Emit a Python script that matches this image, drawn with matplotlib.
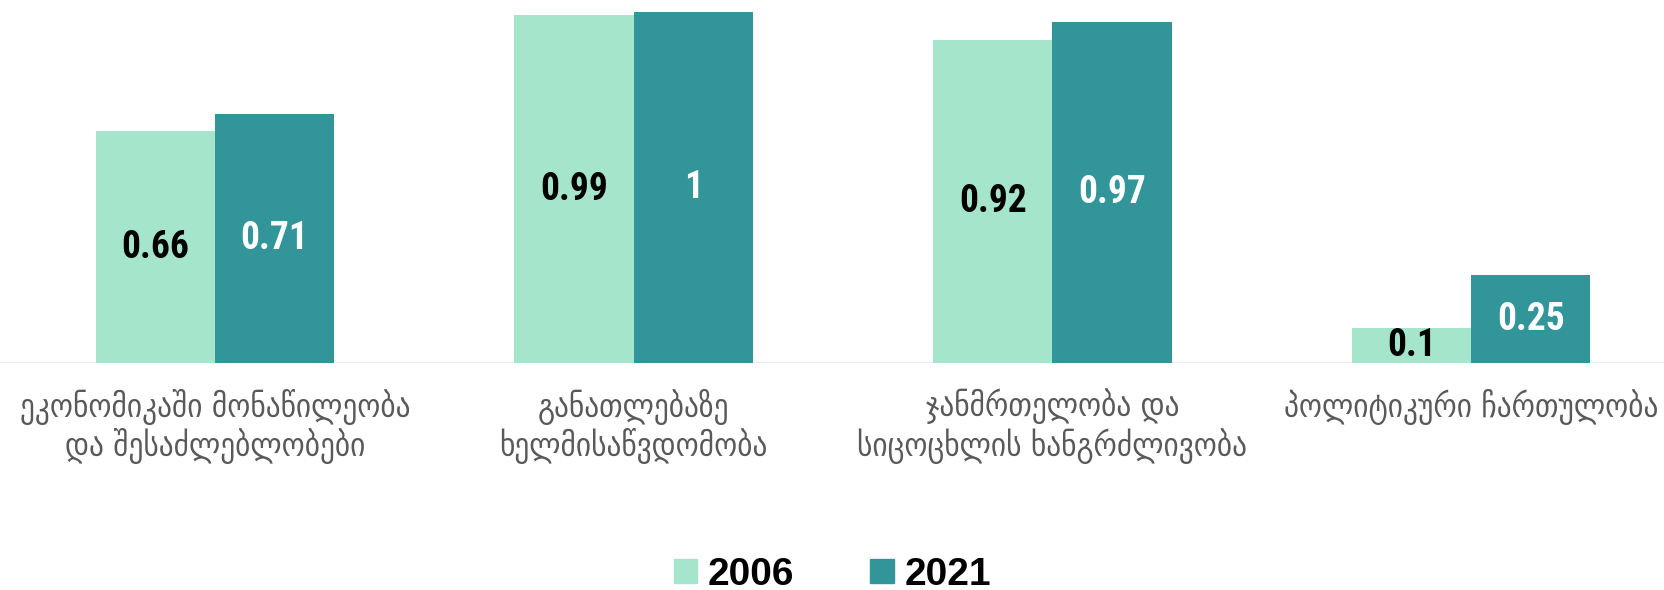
import matplotlib.pyplot as plt
import numpy as np
from matplotlib.transforms import blended_transform_factory
from matplotlib.patches import Patch

categories = [
    "ეკონომიკაში მონაწილეობა\nდა შესაძლებლობები",
    "განათლებაზე\nხელმისაწვდომობა",
    "ჯანმრთელობა და\nსიცოცხლის ხანგრძლივობა",
    "პოლიტიკური ჩართულობა",
]
years = ["2006", "2021"]
values_2006 = [0.66, 0.99, 0.92, 0.1]
values_2021 = [0.71, 1, 0.97, 0.25]

col_2006 = "#A4E5CB"
col_2021 = "#32959A"


def main():
    fig = plt.figure(figsize=(16.65, 5.90), dpi=100)
    # axes fills the whole width, baseline at 363 px from top
    ax = fig.add_axes([0, 1 - 363.2 / 590, 1, 363.2 / 590])

    x = np.arange(len(categories))
    w = 0.285
    b1 = ax.bar(x - w / 2, values_2006, w, color=col_2006)
    b2 = ax.bar(x + w / 2, values_2021, w, color=col_2021)

    # value labels in the middle of each bar (narrow bold face)
    lbl = dict(fontsize=27, fontweight="bold", fontstretch="condensed",
               family=["DejaVu Sans Condensed", "Roboto Condensed", "Open Sans Condensed", "DejaVu Sans"])
    ax.bar_label(b1, labels=[f"{v:g}" for v in values_2006], label_type="center", color="black", **lbl)
    ax.bar_label(b2, labels=[f"{v:g}" for v in values_2021], label_type="center", color="white", **lbl)

    ax.set_xlim(-0.5135, 3.463)
    ax.set_ylim(0, 1.0333)
    ax.axhline(0, color="#EDEDED", linewidth=2.5, zorder=0)
    for s in ax.spines.values():
        s.set_visible(False)
    ax.set_xticks([])
    ax.set_yticks([])

    # category names under the groups
    tr = blended_transform_factory(ax.transData, ax.transAxes)
    for xi, name in zip(x, categories):
        ax.text(xi, -0.07, name, transform=tr, ha="center", va="top",
                fontsize=23.5, color="#595959", linespacing=1.12,
                family="DejaVu Sans", fontstretch="condensed")

    handles = [Patch(color=col_2006), Patch(color=col_2021)]
    fig.legend(handles, years, loc="lower center", bbox_to_anchor=(0.5, -0.064), ncol=2,
               frameon=False, prop=dict(family="Liberation Sans", weight="bold", size=28),
               handlelength=0.6, handleheight=0.6, handletextpad=0.28, columnspacing=1.95)

    fig.savefig("out.png", dpi=100)


if __name__ == '__main__':
    main()
